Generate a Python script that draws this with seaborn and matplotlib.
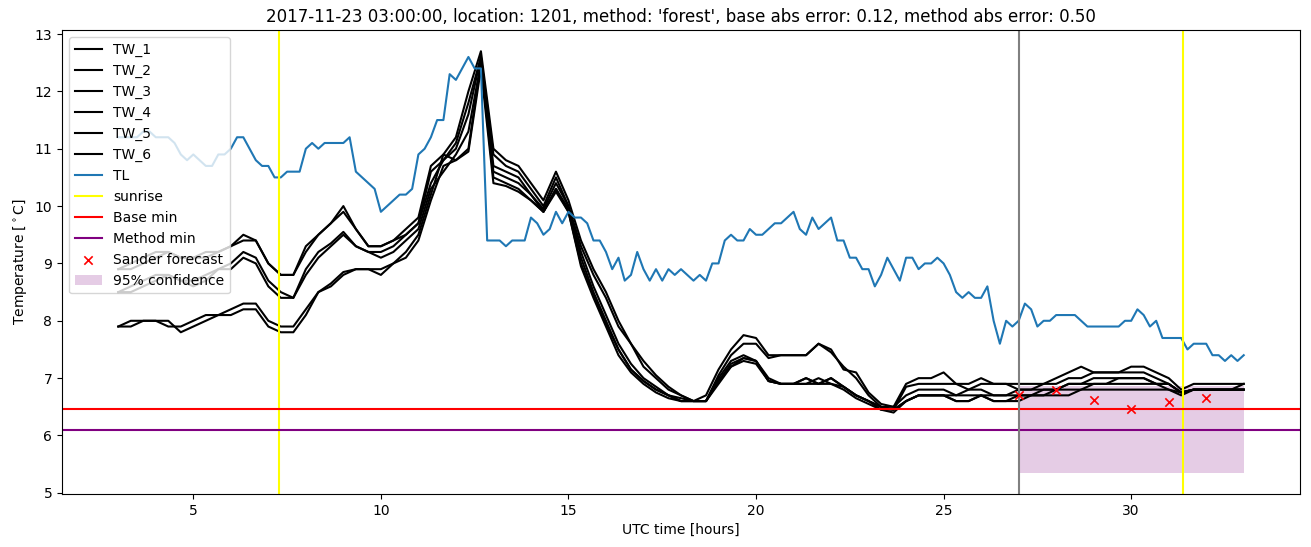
import numpy as np
import pandas as pd
import matplotlib
matplotlib.use("Agg")
import matplotlib.pyplot as plt
import seaborn as sns

# ---------------- data ----------------
start_hour = 3.0
end_hour = 33.0

tl_values = [
    11.2, 11.2, 11.2, 11.2, 11.3, 11.3, 11.2, 11.2, 11.2, 11.1,
    10.9, 10.8, 10.9, 10.8, 10.7, 10.7, 10.9, 10.9, 11.0, 11.2,
    11.2, 11.0, 10.8, 10.7, 10.7, 10.5, 10.5, 10.6, 10.6, 10.6,
    11.0, 11.1, 11.0, 11.1, 11.1, 11.1, 11.1, 11.2, 10.6, 10.5,
    10.4, 10.3, 9.9, 10.0, 10.1, 10.2, 10.2, 10.3, 10.9, 11.0,
    11.2, 11.5, 11.5, 12.3, 12.2, 12.4, 12.6, 12.4, 12.4, 9.4,
    9.4, 9.4, 9.3, 9.4, 9.4, 9.4, 9.8, 9.7, 9.5, 9.6,
    9.9, 9.7, 9.9, 9.8, 9.8, 9.7, 9.4, 9.4, 9.2, 8.9,
    9.1, 8.7, 8.8, 9.2, 8.9, 8.7, 8.9, 8.7, 8.9, 8.8,
    8.9, 8.8, 8.7, 8.8, 8.7, 9.0, 9.0, 9.4, 9.5, 9.4,
    9.4, 9.6, 9.5, 9.5, 9.6, 9.7, 9.7, 9.8, 9.9, 9.6,
    9.5, 9.8, 9.6, 9.7, 9.8, 9.4, 9.4, 9.1, 9.1, 8.9,
    8.9, 8.6, 8.8, 9.1, 8.9, 8.7, 9.1, 9.1, 8.9, 9.0,
    9.0, 9.1, 9.0, 8.8, 8.5, 8.4, 8.5, 8.4, 8.4, 8.6,
    8.0, 7.6, 8.0, 7.9, 8.0, 8.3, 8.2, 7.9, 8.0, 8.0,
    8.1, 8.1, 8.1, 8.1, 8.0, 7.9, 7.9, 7.9, 7.9, 7.9,
    7.9, 8.0, 8.0, 8.2, 8.1, 7.9, 8.0, 7.7, 7.7, 7.7,
    7.7, 7.5, 7.6, 7.6, 7.6, 7.4, 7.4, 7.3, 7.4, 7.3,
    7.4,
]

tw_1 = [
    8.9, 9.0, 9.1, 9.2, 9.2, 9.1, 9.1, 9.2, 9.2, 9.3,
    9.5, 9.4, 9.0, 8.8, 8.8, 9.3, 9.5, 9.7, 10.0, 9.6,
    9.3, 9.3, 9.4, 9.6, 9.8, 10.7, 10.9, 11.2, 12.0, 12.7,
    11.0, 10.8, 10.7, 10.4, 10.1, 10.6, 10.1, 9.4, 8.9, 8.5,
    8.0, 7.6, 7.3, 7.05, 6.85, 6.7, 6.6, 6.7, 7.15, 7.5,
    7.75, 7.7, 7.4, 7.4, 7.4, 7.4, 7.6, 7.5, 7.15, 7.1,
    6.75, 6.55, 6.5, 6.9, 7.0, 7.0, 7.1, 6.9, 6.9, 7.0,
    6.9, 6.9, 6.9, 6.9, 6.9, 7.0, 7.1, 7.2, 7.1, 7.1,
    7.1, 7.2, 7.2, 7.1, 7.0, 6.8, 6.9, 6.9, 6.9, 6.9,
    6.9,
]
tw_2 = [
    8.9, 8.9, 9.0, 9.1, 9.2, 9.1, 9.1, 9.1, 9.2, 9.3,
    9.4, 9.4, 9.0, 8.8, 8.8, 9.2, 9.5, 9.7, 9.9, 9.6,
    9.3, 9.3, 9.4, 9.5, 9.7, 10.6, 10.8, 11.1, 11.8, 12.6,
    10.9, 10.7, 10.6, 10.3, 10.0, 10.5, 10.0, 9.3, 8.8, 8.4,
    7.9, 7.6, 7.2, 7.0, 6.8, 6.7, 6.6, 6.6, 7.05, 7.4,
    7.6, 7.6, 7.35, 7.4, 7.4, 7.4, 7.6, 7.45, 7.2, 7.0,
    6.7, 6.5, 6.45, 6.85, 6.9, 6.9, 6.9, 6.9, 6.8, 6.9,
    6.9, 6.9, 6.8, 6.8, 6.9, 6.9, 7.0, 7.0, 7.1, 7.1,
    7.1, 7.1, 7.1, 7.0, 6.9, 6.75, 6.8, 6.8, 6.8, 6.8,
    6.9,
]
tw_3 = [
    8.5, 8.6, 8.7, 8.8, 8.8, 8.7, 8.7, 8.8, 8.9, 9.0,
    9.2, 9.1, 8.7, 8.5, 8.4, 8.9, 9.2, 9.35, 9.55, 9.3,
    9.2, 9.2, 9.3, 9.5, 9.7, 10.4, 10.8, 11.0, 11.6, 12.6,
    10.7, 10.6, 10.5, 10.2, 9.95, 10.4, 10.0, 9.1, 8.5, 8.0,
    7.5, 7.15, 6.95, 6.8, 6.7, 6.6, 6.6, 6.6, 7.0, 7.3,
    7.4, 7.3, 7.0, 6.9, 6.9, 6.9, 7.0, 6.9, 6.85, 6.7,
    6.6, 6.5, 6.5, 6.7, 6.8, 6.8, 6.8, 6.7, 6.8, 6.8,
    6.7, 6.7, 6.8, 6.8, 6.8, 6.8, 6.9, 6.9, 7.0, 7.0,
    7.0, 7.0, 7.0, 6.9, 6.9, 6.75, 6.8, 6.8, 6.8, 6.8,
    6.8,
]
tw_4 = [
    8.5, 8.5, 8.6, 8.7, 8.8, 8.7, 8.6, 8.7, 8.9, 8.9,
    9.1, 9.0, 8.6, 8.4, 8.4, 8.8, 9.1, 9.3, 9.5, 9.3,
    9.2, 9.1, 9.2, 9.4, 9.6, 10.3, 10.6, 10.9, 11.3, 12.5,
    10.6, 10.5, 10.4, 10.2, 9.9, 10.3, 9.95, 9.2, 8.6, 8.1,
    7.6, 7.25, 7.0, 6.85, 6.7, 6.65, 6.6, 6.6, 6.95, 7.25,
    7.35, 7.3, 6.95, 6.9, 6.9, 7.0, 6.9, 7.0, 6.85, 6.7,
    6.6, 6.5, 6.45, 6.6, 6.7, 6.7, 6.7, 6.6, 6.6, 6.7,
    6.6, 6.6, 6.7, 6.7, 6.8, 6.8, 6.9, 6.9, 6.9, 6.9,
    7.0, 7.0, 7.0, 6.9, 6.9, 6.75, 6.8, 6.8, 6.8, 6.8,
    6.8,
]
tw_5 = [
    7.9, 8.0, 8.0, 8.0, 7.9, 7.9, 8.0, 8.1, 8.1, 8.2,
    8.3, 8.3, 8.0, 7.9, 7.9, 8.2, 8.5, 8.65, 8.85, 8.9,
    8.9, 8.9, 9.0, 9.2, 9.5, 10.2, 10.9, 10.8, 11.0, 12.5,
    10.5, 10.4, 10.3, 10.1, 9.9, 10.3, 9.9, 8.95, 8.4, 7.9,
    7.4, 7.1, 6.9, 6.75, 6.65, 6.6, 6.6, 6.6, 6.95, 7.2,
    7.35, 7.3, 6.95, 6.9, 6.9, 7.0, 6.9, 7.0, 6.85, 6.7,
    6.6, 6.45, 6.4, 6.6, 6.7, 6.7, 6.7, 6.6, 6.6, 6.7,
    6.6, 6.6, 6.6, 6.7, 6.7, 6.8, 6.8, 6.8, 6.9, 6.9,
    6.9, 6.9, 6.9, 6.9, 6.8, 6.7, 6.8, 6.8, 6.8, 6.8,
    6.8,
]
tw_6 = [
    7.9, 7.9, 8.0, 8.0, 8.0, 7.8, 7.9, 8.0, 8.1, 8.1,
    8.2, 8.2, 7.9, 7.8, 7.8, 8.1, 8.5, 8.6, 8.8, 8.9,
    8.9, 8.8, 9.0, 9.1, 9.4, 10.1, 10.7, 10.8, 10.95, 12.4,
    10.4, 10.35, 10.25, 10.1, 9.9, 10.25, 9.9, 9.0, 8.45, 7.95,
    7.5, 7.15, 6.95, 6.8, 6.7, 6.6, 6.6, 6.6, 6.9, 7.2,
    7.3, 7.25, 6.95, 6.9, 6.9, 6.9, 6.9, 6.9, 6.8, 6.65,
    6.55, 6.45, 6.45, 6.6, 6.7, 6.7, 6.7, 6.7, 6.7, 6.7,
    6.7, 6.7, 6.7, 6.7, 6.7, 6.7, 6.7, 6.8, 6.8, 6.8,
    6.8, 6.8, 6.8, 6.8, 6.8, 6.75, 6.8, 6.8, 6.8, 6.8,
    6.8,
]

tw_series = {"TW_1": tw_1, "TW_2": tw_2, "TW_3": tw_3,
             "TW_4": tw_4, "TW_5": tw_5, "TW_6": tw_6}

sunrise_hours = [7.28, 31.37]
forecast_start = 27.0
base_min = 6.47
method_min = 6.10
sander_hours = [27, 28, 29, 30, 31, 32]
sander_values = [6.70, 6.80, 6.62, 6.47, 6.58, 6.66]
conf_hours = [27.0, 33.0]
conf_low = 5.35
conf_high = 6.86

title = ("2017-11-23 03:00:00, location: 1201, method: 'forest', "
         "base abs error: 0.12, method abs error: 0.50")

# ---------------- plot ----------------
tl_hours = np.linspace(start_hour, end_hour, len(tl_values))
tw_hours = np.linspace(start_hour, end_hour, len(tw_1))

fig = plt.figure(figsize=(13.11, 5.47), dpi=100)
ax = fig.add_axes([62 / 1311, 1 - 494 / 547, (1300 - 62) / 1311, (494 - 30) / 547])

for name, vals in tw_series.items():
    df = pd.DataFrame({"hour": tw_hours, "temp": vals})
    sns.lineplot(data=df, x="hour", y="temp", color="black", label=name,
                 ax=ax, linewidth=1.5)

df_tl = pd.DataFrame({"hour": tl_hours, "temp": tl_values})
sns.lineplot(data=df_tl, x="hour", y="temp", color="#1f77b4", label="TL",
             ax=ax, linewidth=1.5)

ax.axvline(sunrise_hours[0], color="yellow", label="sunrise")
ax.axvline(sunrise_hours[1], color="yellow")
ax.axhline(base_min, color="red", label="Base min")
ax.axhline(method_min, color="purple", label="Method min")
ax.axvline(forecast_start, color="grey")
sns.scatterplot(x=sander_hours, y=sander_values, marker="x", color="red",
                s=36, linewidth=1.2, label="Sander forecast", ax=ax, zorder=5)
ax.fill_between(conf_hours, [conf_low] * 2, [conf_high] * 2, color="purple",
                alpha=0.2, linewidth=0, label="95% confidence")

ax.set_xlim(1.5, 34.5)
ax.set_ylim(4.98, 13.07)
ax.set_xticks([5, 10, 15, 20, 25, 30])
ax.set_yticks([5, 6, 7, 8, 9, 10, 11, 12, 13])
ax.set_xlabel("UTC time [hours]")
ax.set_ylabel(r"Temperature [$^\circ$C]")
ax.set_title(title)
ax.legend(loc="upper left")

fig.savefig("out.png", dpi=100)
